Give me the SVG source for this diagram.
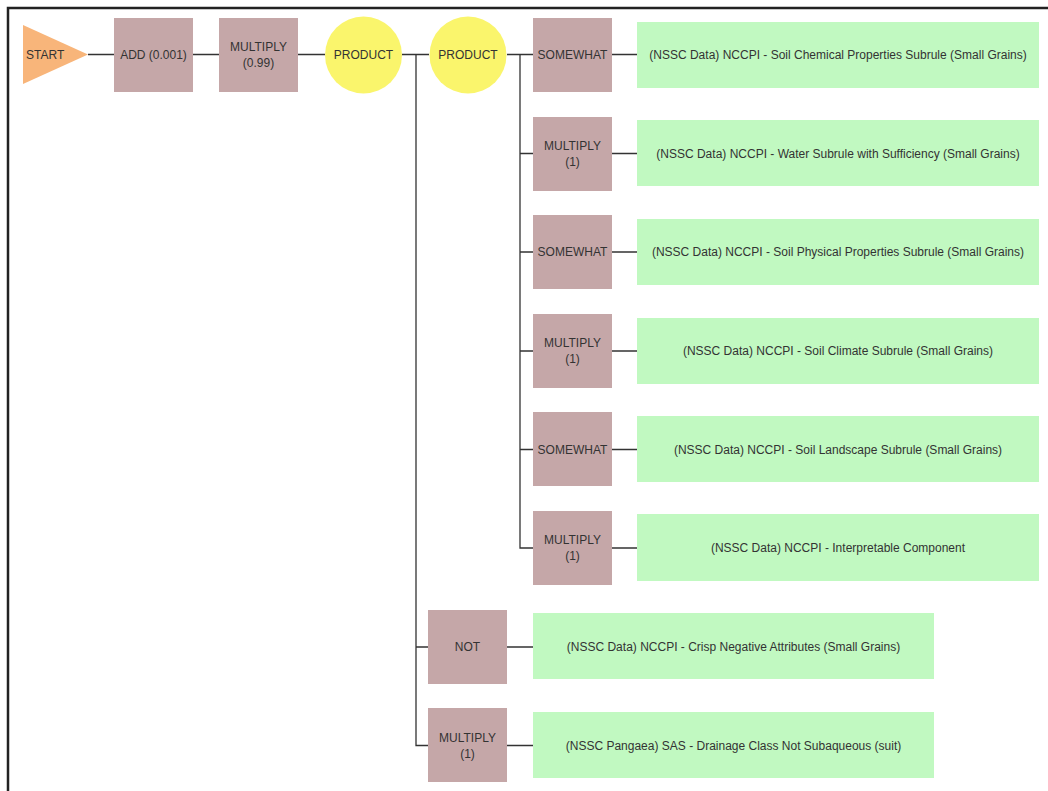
<svg xmlns="http://www.w3.org/2000/svg" width="1048" height="791" viewBox="0 0 1048 791">
<style>
text{font-family:"Liberation Sans",Arial,sans-serif;font-size:12px;fill:#333;text-anchor:middle}
.op{fill:#C5A7A8}
.prod{fill:#FAF56C}
.data{fill:#C1F9C1}
.c{stroke:#333;stroke-width:1.3;fill:none}
</style>
<rect x="0" y="0" width="1048" height="791" fill="#fff"/>
<rect x="8" y="8" width="1060" height="800" fill="none" stroke="#222" stroke-width="2.5"/>
<g id="connectors">
<path class="c" d="M88 54.5H114M193 54.5H219M298 54.5H325M402 54.5H429M507 54.5H533M612 54.5H637"/>
<path class="c" d="M416 54.5V745.5H428M416 647H428"/>
<path class="c" d="M520 54.5V548H533M520 153.5H533M520 252H533M520 351H533M520 449.5H533"/>
<path class="c" d="M612 153.5H637M612 252H637M612 351H637M612 449.5H637M612 548H637"/>
<path class="c" d="M507 647H533M507 745.5H533"/>
</g>
<g id="start"><polygon points="23,25 88,54.5 23,84" fill="#F8B57A"/><text x="26" y="58.5" style="text-anchor:start">START</text></g>
<g id="add"><rect class="op" x="114" y="18" width="79" height="74"/><text x="153.5" y="59">ADD (0.001)</text></g>
<g id="mult099"><rect class="op" x="219" y="18" width="79" height="74"/><text x="258.5" y="51">MULTIPLY</text><text x="258.5" y="67">(0.99)</text></g>
<g id="product1"><circle class="prod" cx="363.5" cy="55" r="38.5"/><text x="363.5" y="59">PRODUCT</text></g>
<g id="product2"><circle class="prod" cx="468" cy="55" r="38.5"/><text x="468" y="59">PRODUCT</text></g>
<g id="op1"><rect class="op" x="533" y="18" width="79" height="74"/><text x="572.5" y="59">SOMEWHAT</text></g>
<g id="op2"><rect class="op" x="533" y="117" width="79" height="74"/><text x="572.5" y="149.5">MULTIPLY</text><text x="572.5" y="165.5">(1)</text></g>
<g id="op3"><rect class="op" x="533" y="215" width="79" height="74"/><text x="572.5" y="256">SOMEWHAT</text></g>
<g id="op4"><rect class="op" x="533" y="314" width="79" height="74"/><text x="572.5" y="347">MULTIPLY</text><text x="572.5" y="363">(1)</text></g>
<g id="op5"><rect class="op" x="533" y="412" width="79" height="74"/><text x="572.5" y="453.5">SOMEWHAT</text></g>
<g id="op6"><rect class="op" x="533" y="511" width="79" height="74"/><text x="572.5" y="544">MULTIPLY</text><text x="572.5" y="560">(1)</text></g>
<g id="op7"><rect class="op" x="428" y="610" width="79" height="74"/><text x="467.5" y="651">NOT</text></g>
<g id="op8"><rect class="op" x="428" y="708" width="79" height="74"/><text x="467.5" y="741.5">MULTIPLY</text><text x="467.5" y="757.5">(1)</text></g>
<g id="d1"><rect class="data" x="637" y="22" width="402" height="66"/><text x="838" y="59">(NSSC Data) NCCPI - Soil Chemical Properties Subrule (Small Grains)</text></g>
<g id="d2"><rect class="data" x="637" y="120" width="402" height="66"/><text x="838" y="157.5">(NSSC Data) NCCPI - Water Subrule with Sufficiency (Small Grains)</text></g>
<g id="d3"><rect class="data" x="637" y="219" width="402" height="66"/><text x="838" y="256">(NSSC Data) NCCPI - Soil Physical Properties Subrule (Small Grains)</text></g>
<g id="d4"><rect class="data" x="637" y="318" width="402" height="66"/><text x="838" y="355">(NSSC Data) NCCPI - Soil Climate Subrule (Small Grains)</text></g>
<g id="d5"><rect class="data" x="637" y="416" width="402" height="66"/><text x="838" y="453.5">(NSSC Data) NCCPI - Soil Landscape Subrule (Small Grains)</text></g>
<g id="d6"><rect class="data" x="637" y="514" width="402" height="67"/><text x="838" y="552">(NSSC Data) NCCPI - Interpretable Component</text></g>
<g id="d7"><rect class="data" x="533" y="613" width="401" height="66"/><text x="733.5" y="651">(NSSC Data) NCCPI - Crisp Negative Attributes (Small Grains)</text></g>
<g id="d8"><rect class="data" x="533" y="712" width="401" height="66"/><text x="733.5" y="749.5">(NSSC Pangaea) SAS - Drainage Class Not Subaqueous (suit)</text></g>
</svg>
